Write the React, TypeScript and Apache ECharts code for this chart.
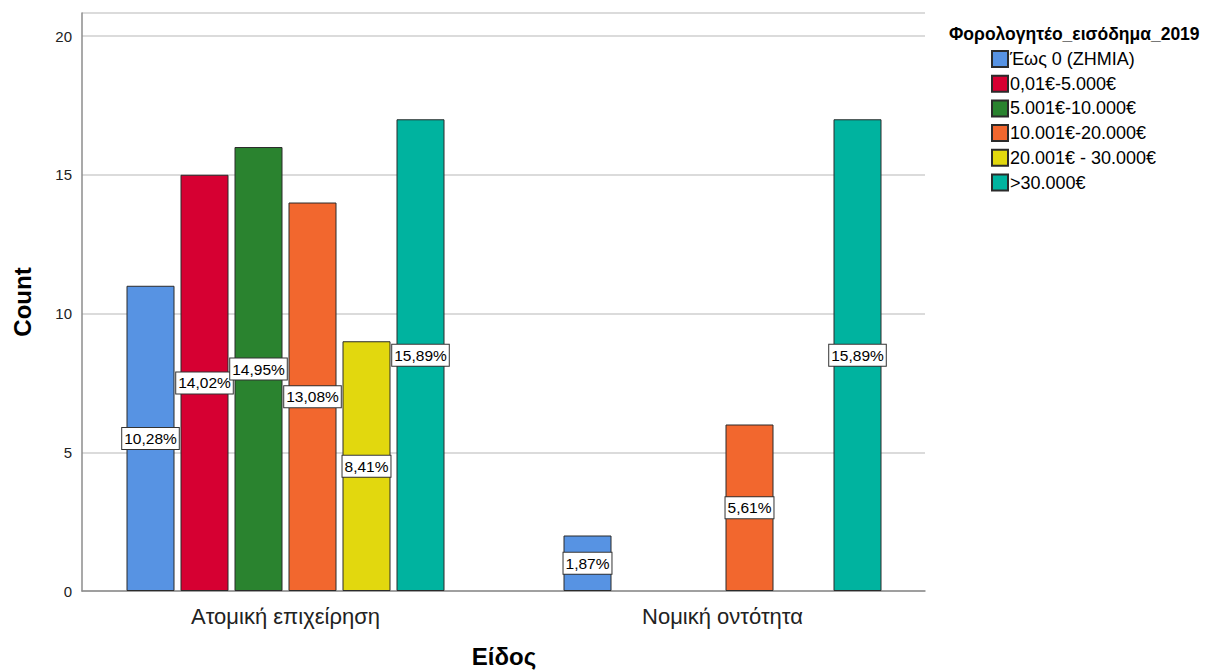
import React, { useEffect, useRef } from "react";
import * as echarts from "echarts";

const categories = ["Ατομική επιχείρηση", "Νομική οντότητα"];
const seriesNames = [
  "Έως 0 (ΖΗΜΙΑ)",
  "0,01€-5.000€",
  "5.001€-10.000€",
  "10.001€-20.000€",
  "20.001€ - 30.000€",
  ">30.000€",
];
const seriesColors = ["#5793E3", "#D60032", "#2A832F", "#F2672E", "#E2D80E", "#00B39F"];
const values: (number | null)[][] = [
  [11, 2],
  [15, null],
  [16, null],
  [14, 6],
  [9, null],
  [17, 17],
];
const yTicks = [0, 5, 10, 15, 20];
const legendTitle = "Φορολογητέο_εισόδημα_2019";
const xTitle = "Είδος";
const yTitle = "Count";

const FONT = "'Liberation Sans', Arial, sans-serif";

export default function App() {
  const ref = useRef<HTMLDivElement>(null);
  useEffect(() => {
    document.body.style.margin = "0";
    const chart = echarts.init(ref.current!, null, { renderer: "svg" });
    const total = values.flat().reduce((a: number, b) => a + (b ?? 0), 0);
    const yMax = 20.83;
    chart.setOption({
      animation: false,
      textStyle: { fontFamily: FONT },
      grid: [
        { left: 82, top: 13, width: 843, height: 578, outerBoundsMode: "none", containLabel: false },
        { left: 67, top: 13, width: 874, height: 578, outerBoundsMode: "none", containLabel: false },
      ],
      title: {
        text: legendTitle,
        left: 944,
        top: 20,
        textStyle: { fontFamily: FONT, fontSize: 17.5, fontWeight: "bold", color: "#000" },
      },
      legend: {
        orient: "vertical",
        left: 986,
        top: 45,
        itemWidth: 16,
        itemHeight: 16,
        itemGap: 6.7,
        icon: "rect",
        textStyle: {
          fontFamily: FONT,
          fontSize: 18,
          lineHeight: 18,
          color: "#000",
          padding: [0, 0, 0, -3],
        },
        data: seriesNames,
      },
      xAxis: [
        {
          type: "category",
          gridIndex: 0,
          data: categories,
          axisLine: { show: true, lineStyle: { color: "#8c8c8c", width: 1.5 } },
          axisTick: { show: false },
          axisLabel: { show: false },
        },
        {
          type: "category",
          gridIndex: 1,
          data: categories,
          axisLine: { show: false },
          axisTick: { show: false },
          axisLabel: { fontFamily: FONT, fontSize: 22, color: "#222", margin: 14 },
          name: xTitle,
          nameLocation: "middle",
          nameGap: 53,
          nameTextStyle: { fontFamily: FONT, fontSize: 24, fontWeight: "bold", color: "#000" },
        },
      ],
      yAxis: [
        {
          type: "value",
          gridIndex: 0,
          min: 0,
          max: yMax,
          interval: 5,
          axisLine: { show: true, lineStyle: { color: "#8c8c8c", width: 1.5 } },
          axisTick: { show: false },
          axisLabel: {
            fontFamily: FONT,
            fontSize: 15,
            color: "#222",
            margin: 10,
            formatter: (v: number) => (yTicks.includes(v) ? String(v) : ""),
          },
          splitLine: { show: true, lineStyle: { color: "#cfcfcf", width: 1.5 } },
          name: yTitle,
          nameLocation: "middle",
          nameGap: 48,
          nameRotate: 90,
          nameTextStyle: { fontFamily: FONT, fontSize: 24, fontWeight: "bold", color: "#000" },
        },
        {
          type: "value",
          gridIndex: 1,
          min: 0,
          max: yMax,
          show: false,
          splitLine: { show: false },
        },
      ],
      series: seriesNames.map((name, i) => ({
        name,
        type: "bar",
        xAxisIndex: 1,
        yAxisIndex: 1,
        data: values[i],
        barWidth: 48,
        barGap: "12.5%",
        itemStyle: { color: seriesColors[i], borderColor: "#2b2b2b", borderWidth: 1 },
        label: {
          show: true,
          position: "inside",
          fontFamily: FONT,
          fontSize: 15.5,
          color: "#000",
          backgroundColor: "#fff",
          borderColor: "#333",
          borderWidth: 1,
          padding: [3, 2, 2, 2],
          formatter: (p: any) =>
            p.value == null ? "" : ((p.value / total) * 100).toFixed(2).replace(".", ",") + "%",
        },
      })),
    });
    return () => chart.dispose();
  }, []);
  return <div ref={ref} style={{ width: 1212, height: 672 }} />;
}
